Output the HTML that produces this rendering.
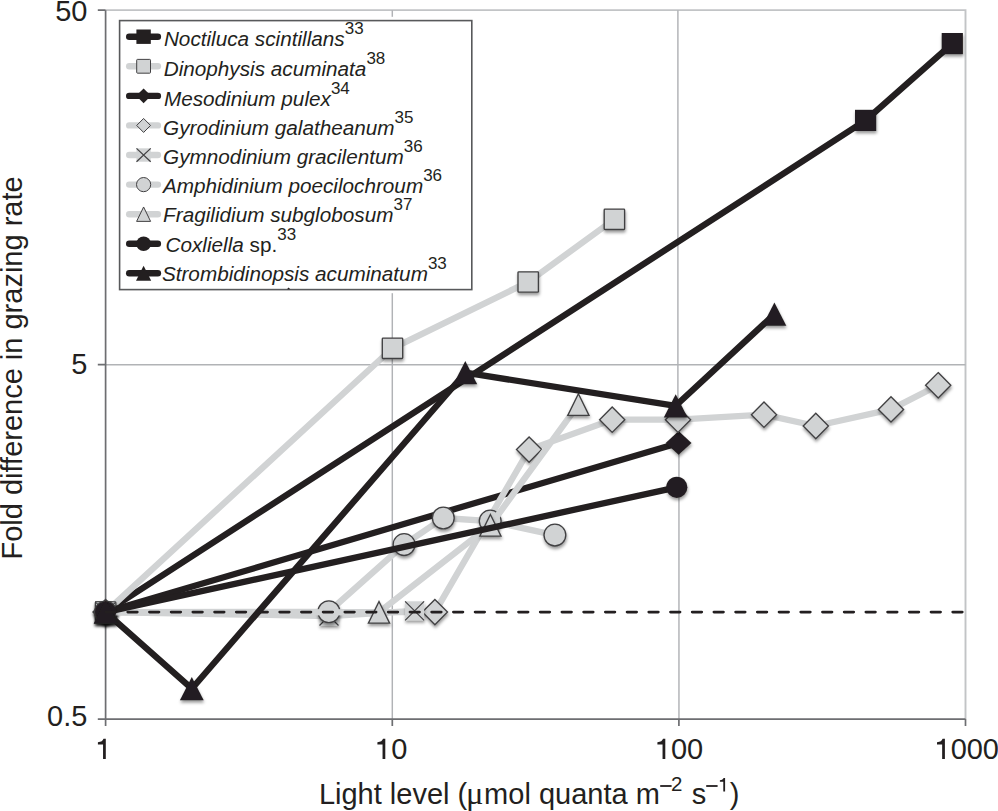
<!DOCTYPE html>
<html><head><meta charset="utf-8"><title>Chart</title>
<style>
html,body{margin:0;padding:0;background:#fff;}
svg{display:block;}
text{font-family:"Liberation Sans",sans-serif;fill:#231f20;}
</style></head><body>
<svg width="998" height="811" viewBox="0 0 998 811">
<defs>
<filter id="sh" x="-40%" y="-40%" width="180%" height="200%"><feDropShadow dx="0.5" dy="2.4" stdDeviation="1.5" flood-color="#000" flood-opacity="0.4"/></filter>
</defs>
<rect width="998" height="811" fill="#fff"/>
<g stroke="#b1b3b6" fill="none">
<path d="M105.6 10.15H965.5V719.05" stroke-width="1.9" stroke="#c2c4c6"/>
<path d="M392.3 10.15V719.05M677.9 10.15V412M678.95 412V719.05M105.6 364.7H965.5" stroke-width="1.45"/>
</g>
<g stroke="#6d6e71" stroke-width="1.7" fill="none">
<path d="M105.6 10.15V726.05M97.8 719.05H965.5"/>
<path d="M97.8 10.15H105.6M97.8 364.7H105.6"/>
<path d="M392.3 719.05v7M678.9 719.05v7M965.5 719.05v7"/>
</g>
<rect x="116" y="16.8" width="359.4" height="276.4" fill="#fff"/>
<rect x="119.6" y="20.6" width="352.2" height="269.0" fill="#fff" stroke="#58595b" stroke-width="1.6"/>
<path d="M287.0 289.2L288.6 287.6L290.3 289.2Z" fill="#231f20"/>
<path d="M105.6 612.1L865.6 120.4L952.3 43.6" fill="none" stroke="#231f20" stroke-width="6.3" stroke-linejoin="round" stroke-linecap="round"/>
<rect x="95.00" y="601.50" width="21.20" height="21.20" rx="0" fill="#231f20" filter="url(#sh)"/>
<rect x="855.00" y="109.80" width="21.20" height="21.20" rx="0" fill="#231f20" filter="url(#sh)"/>
<rect x="941.70" y="33.00" width="21.20" height="21.20" rx="0" fill="#231f20" filter="url(#sh)"/>
<path d="M105.6 612.1L392.5 348.3L528.2 282.0L614.4 219.3" fill="none" stroke="#d1d3d4" stroke-width="6.3" stroke-linejoin="round" stroke-linecap="round"/>
<rect x="95.40" y="601.90" width="20.40" height="20.40" rx="0.8" fill="#d1d3d4" stroke="#414042" stroke-width="1.35" filter="url(#sh)"/>
<rect x="382.30" y="338.10" width="20.40" height="20.40" rx="0.8" fill="#d1d3d4" stroke="#414042" stroke-width="1.35" filter="url(#sh)"/>
<rect x="518.00" y="271.80" width="20.40" height="20.40" rx="0.8" fill="#d1d3d4" stroke="#414042" stroke-width="1.35" filter="url(#sh)"/>
<rect x="604.20" y="209.10" width="20.40" height="20.40" rx="0.8" fill="#d1d3d4" stroke="#414042" stroke-width="1.35" filter="url(#sh)"/>
<path d="M105.6 612.1L678.6 442.9" fill="none" stroke="#231f20" stroke-width="6.3" stroke-linejoin="round" stroke-linecap="round"/>
<path d="M105.60 600.20L118.50 612.10L105.60 624.00L92.70 612.10Z" fill="#231f20" filter="url(#sh)"/>
<path d="M678.60 431.00L691.50 442.90L678.60 454.80L665.70 442.90Z" fill="#231f20" filter="url(#sh)"/>
<path d="M105.6 612.1L434.9 612.1L529.1 449.6L612.2 419.7L678.0 419.7L764.0 414.7L815.8 426.0L891.0 409.4L938.2 385.3" fill="none" stroke="#d1d3d4" stroke-width="6.3" stroke-linejoin="round" stroke-linecap="round"/>
<path d="M105.60 599.40L118.20 612.10L105.60 624.80L93.00 612.10Z" fill="#d1d3d4" stroke="#414042" stroke-width="1.35" filter="url(#sh)"/>
<path d="M434.90 599.40L447.50 612.10L434.90 624.80L422.30 612.10Z" fill="#d1d3d4" stroke="#414042" stroke-width="1.35" filter="url(#sh)"/>
<path d="M529.10 436.90L541.70 449.60L529.10 462.30L516.50 449.60Z" fill="#d1d3d4" stroke="#414042" stroke-width="1.35" filter="url(#sh)"/>
<path d="M612.20 407.00L624.80 419.70L612.20 432.40L599.60 419.70Z" fill="#d1d3d4" stroke="#414042" stroke-width="1.35" filter="url(#sh)"/>
<path d="M678.00 407.00L690.60 419.70L678.00 432.40L665.40 419.70Z" fill="#d1d3d4" stroke="#414042" stroke-width="1.35" filter="url(#sh)"/>
<path d="M764.00 402.00L776.60 414.70L764.00 427.40L751.40 414.70Z" fill="#d1d3d4" stroke="#414042" stroke-width="1.35" filter="url(#sh)"/>
<path d="M815.80 413.30L828.40 426.00L815.80 438.70L803.20 426.00Z" fill="#d1d3d4" stroke="#414042" stroke-width="1.35" filter="url(#sh)"/>
<path d="M891.00 396.70L903.60 409.40L891.00 422.10L878.40 409.40Z" fill="#d1d3d4" stroke="#414042" stroke-width="1.35" filter="url(#sh)"/>
<path d="M938.20 372.60L950.80 385.30L938.20 398.00L925.60 385.30Z" fill="#d1d3d4" stroke="#414042" stroke-width="1.35" filter="url(#sh)"/>
<path d="M105.6 612.1L329.0 616.0L414.6 610.8" fill="none" stroke="#d1d3d4" stroke-width="6.3" stroke-linejoin="round" stroke-linecap="round"/>
<g filter="url(#sh)"><rect x="96.10" y="602.60" width="19.00" height="19.00" fill="#d1d3d4"/><path d="M96.10 602.60L115.10 621.60M115.10 602.60L96.10 621.60" stroke="#414042" stroke-width="1.2" fill="none"/></g>
<g filter="url(#sh)"><rect x="319.50" y="606.50" width="19.00" height="19.00" fill="#d1d3d4"/><path d="M319.50 606.50L338.50 625.50M338.50 606.50L319.50 625.50" stroke="#414042" stroke-width="1.2" fill="none"/></g>
<g filter="url(#sh)"><rect x="405.10" y="601.30" width="19.00" height="19.00" fill="#d1d3d4"/><path d="M405.10 601.30L424.10 620.30M424.10 601.30L405.10 620.30" stroke="#414042" stroke-width="1.2" fill="none"/></g>
<path d="M105.6 612.1L328.9 611.7L404.1 544.6L443.3 518.0L490.2 521.1L554.9 535.1" fill="none" stroke="#d1d3d4" stroke-width="6.3" stroke-linejoin="round" stroke-linecap="round"/>
<circle cx="105.60" cy="612.10" r="10.90" fill="#d1d3d4" stroke="#414042" stroke-width="1.35" filter="url(#sh)"/>
<circle cx="328.90" cy="611.70" r="10.90" fill="#d1d3d4" stroke="#414042" stroke-width="1.35" filter="url(#sh)"/>
<circle cx="404.10" cy="544.60" r="10.90" fill="#d1d3d4" stroke="#414042" stroke-width="1.35" filter="url(#sh)"/>
<circle cx="443.30" cy="518.00" r="10.90" fill="#d1d3d4" stroke="#414042" stroke-width="1.35" filter="url(#sh)"/>
<circle cx="490.20" cy="521.10" r="10.90" fill="#d1d3d4" stroke="#414042" stroke-width="1.35" filter="url(#sh)"/>
<circle cx="554.90" cy="535.10" r="10.90" fill="#d1d3d4" stroke="#414042" stroke-width="1.35" filter="url(#sh)"/>
<path d="M105.6 612.1L379.0 612.3L490.4 525.3L578.4 404.6" fill="none" stroke="#d1d3d4" stroke-width="6.3" stroke-linejoin="round" stroke-linecap="round"/>
<path d="M105.60 601.30L116.20 622.90L95.00 622.90Z" fill="#d1d3d4" stroke="#414042" stroke-width="1.35" filter="url(#sh)"/>
<path d="M379.00 601.50L389.60 623.10L368.40 623.10Z" fill="#d1d3d4" stroke="#414042" stroke-width="1.35" filter="url(#sh)"/>
<path d="M490.40 514.50L501.00 536.10L479.80 536.10Z" fill="#d1d3d4" stroke="#414042" stroke-width="1.35" filter="url(#sh)"/>
<path d="M578.40 393.80L589.00 415.40L567.80 415.40Z" fill="#d1d3d4" stroke="#414042" stroke-width="1.35" filter="url(#sh)"/>
<path d="M105.6 612.1L676.8 487.3" fill="none" stroke="#231f20" stroke-width="6.3" stroke-linejoin="round" stroke-linecap="round"/>
<circle cx="105.60" cy="612.10" r="10.60" fill="#231f20" filter="url(#sh)"/>
<circle cx="676.80" cy="487.30" r="10.60" fill="#231f20" filter="url(#sh)"/>
<path d="M105.6 612.1L191.8 688.7L465.3 372.7L675.7 405.8L774.4 314.2" fill="none" stroke="#231f20" stroke-width="6.3" stroke-linejoin="round" stroke-linecap="round"/>
<path d="M105.60 600.50L117.50 623.70L93.70 623.70Z" fill="#231f20" filter="url(#sh)"/>
<path d="M191.80 677.10L203.70 700.30L179.90 700.30Z" fill="#231f20" filter="url(#sh)"/>
<path d="M465.30 361.10L477.20 384.30L453.40 384.30Z" fill="#231f20" filter="url(#sh)"/>
<path d="M675.70 394.20L687.60 417.40L663.80 417.40Z" fill="#231f20" filter="url(#sh)"/>
<path d="M774.40 302.60L786.30 325.80L762.50 325.80Z" fill="#231f20" filter="url(#sh)"/>
<path d="M106.1 612.1H965.5" stroke="#231f20" stroke-width="2.9" stroke-linecap="round" stroke-dasharray="9.4 12.31" fill="none"/>
<path d="M129.2 36.7H157.9" stroke="#231f20" stroke-width="6.4" stroke-linecap="round" fill="none"/>
<rect x="136.40" y="29.50" width="14.40" height="14.40" rx="0" fill="#231f20"/>
<text x="163.9" y="46.2" font-size="20.72"><tspan font-style="italic">Noctiluca scintillans</tspan><tspan font-size="17" dy="-11.8">33</tspan></text>
<path d="M129.2 66.3H157.9" stroke="#d1d3d4" stroke-width="6.4" stroke-linecap="round" fill="none"/>
<rect x="136.70" y="59.38" width="13.80" height="13.80" rx="0.8" fill="#d1d3d4" stroke="#414042" stroke-width="1.0"/>
<text x="163.7" y="75.9" font-size="20.72"><tspan font-style="italic">Dinophysis acuminata</tspan><tspan font-size="17" dy="-11.8">38</tspan></text>
<path d="M129.2 95.9H157.9" stroke="#231f20" stroke-width="6.4" stroke-linecap="round" fill="none"/>
<path d="M143.60 88.46L151.00 95.86L143.60 103.26L136.20 95.86Z" fill="#231f20"/>
<text x="163.9" y="105.5" font-size="20.72"><tspan font-style="italic">Mesodinium pulex</tspan><tspan font-size="17" dy="-11.8">34</tspan></text>
<path d="M129.2 125.4H157.9" stroke="#d1d3d4" stroke-width="6.4" stroke-linecap="round" fill="none"/>
<path d="M143.60 118.44L150.50 125.44L143.60 132.44L136.70 125.44Z" fill="#d1d3d4" stroke="#414042" stroke-width="1.0"/>
<text x="163.1" y="134.9" font-size="20.72"><tspan font-style="italic">Gyrodinium galatheanum</tspan><tspan font-size="17" dy="-11.8">35</tspan></text>
<path d="M129.2 155.0H157.9" stroke="#d1d3d4" stroke-width="6.4" stroke-linecap="round" fill="none"/>
<g><rect x="136.50" y="148.32" width="14.20" height="13.40" fill="#d1d3d4"/><path d="M136.50 148.32L150.70 161.72M150.70 148.32L136.50 161.72" stroke="#414042" stroke-width="1.2" fill="none"/></g>
<text x="163.1" y="163.9" font-size="20.72"><tspan font-style="italic">Gymnodinium gracilentum</tspan><tspan font-size="17" dy="-11.8">36</tspan></text>
<path d="M129.2 184.6H157.9" stroke="#d1d3d4" stroke-width="6.4" stroke-linecap="round" fill="none"/>
<circle cx="143.60" cy="184.60" r="7.10" fill="#d1d3d4" stroke="#414042" stroke-width="1.0"/>
<text x="162.9" y="192.9" font-size="20.72"><tspan font-style="italic">Amphidinium poecilochroum</tspan><tspan font-size="17" dy="-11.8">36</tspan></text>
<path d="M129.2 214.2H157.9" stroke="#d1d3d4" stroke-width="6.4" stroke-linecap="round" fill="none"/>
<path d="M143.60 206.98L150.60 221.38L136.60 221.38Z" fill="#d1d3d4" stroke="#414042" stroke-width="1.0"/>
<text x="163.1" y="222.2" font-size="20.72"><tspan font-style="italic">Fragilidium subglobosum</tspan><tspan font-size="17" dy="-11.8">37</tspan></text>
<path d="M129.2 243.8H157.9" stroke="#231f20" stroke-width="6.4" stroke-linecap="round" fill="none"/>
<circle cx="143.60" cy="243.76" r="7.30" fill="#231f20"/>
<text x="165.5" y="252.0" font-size="20.72"><tspan font-style="italic">Coxliella</tspan> sp.<tspan font-size="17" dy="-11.8">33</tspan></text>
<path d="M129.2 273.3H157.9" stroke="#231f20" stroke-width="6.4" stroke-linecap="round" fill="none"/>
<path d="M143.60 265.84L151.20 280.84L136.00 280.84Z" fill="#231f20"/>
<text x="161.9" y="280.8" font-size="20.72"><tspan font-style="italic">Strombidinopsis acuminatum</tspan><tspan font-size="17" dy="-11.8">33</tspan></text>
<text x="87.45" y="21.35" font-size="29" text-anchor="end">50</text>
<text x="87.45" y="373.85" font-size="29" text-anchor="end">5</text>
<text x="87.45" y="726.0" font-size="29" text-anchor="end">0.5</text>
<path d="M105.80 759.05L105.80 738.85L103.50 738.85C102.90 740.75 101.20 742.15 97.90 742.30L97.90 744.50L103.05 744.50L103.05 759.05Z" fill="#231f20"/>
<path d="M385.30 759.05L385.30 738.85L383.00 738.85C382.40 740.75 380.70 742.15 377.40 742.30L377.40 744.50L382.55 744.50L382.55 759.05Z" fill="#231f20"/>
<text x="399.3" y="759.35" font-size="29" text-anchor="middle">0</text>
<path d="M665.30 759.05L665.30 738.85L663.00 738.85C662.40 740.75 660.70 742.15 657.40 742.30L657.40 744.50L662.55 744.50L662.55 759.05Z" fill="#231f20"/>
<text x="679.1" y="759.35" font-size="29" text-anchor="middle">0</text>
<text x="695.15" y="759.35" font-size="29" text-anchor="middle">0</text>
<path d="M944.90 759.05L944.90 738.85L942.60 738.85C942.00 740.75 940.30 742.15 937.00 742.30L937.00 744.50L942.15 744.50L942.15 759.05Z" fill="#231f20"/>
<text x="958.7" y="759.35" font-size="29" text-anchor="middle">0</text>
<text x="974.75" y="759.35" font-size="29" text-anchor="middle">0</text>
<text x="990.8" y="759.35" font-size="29" text-anchor="middle">0</text>
<text transform="translate(22.2 559.5) rotate(-90)" font-size="29">Fold difference in grazing rate</text>
<text x="318.9" y="803.9" font-size="29">Light level (</text>
<text x="466.1" y="803.9" font-size="32.5" font-family="Liberation Serif" style="font-family:'Liberation Serif',serif">μ</text>
<text x="484.1" y="803.9" font-size="29">mol quanta m</text>
<rect x="660.2" y="785.1" width="11.4" height="1.8" fill="#231f20"/>
<text x="671.0" y="791.4" font-size="20.5">2</text>
<text x="691.7" y="803.9" font-size="29">s</text>
<rect x="706.2" y="785.1" width="11.4" height="1.8" fill="#231f20"/>
<path d="M725.10 791.40L725.10 778.07L723.58 778.07C723.19 779.32 722.06 780.25 719.89 780.35L719.89 781.80L723.28 781.80L723.28 791.40Z" fill="#231f20"/>
<text x="729.7" y="803.9" font-size="29">)</text>
</svg></body></html>
